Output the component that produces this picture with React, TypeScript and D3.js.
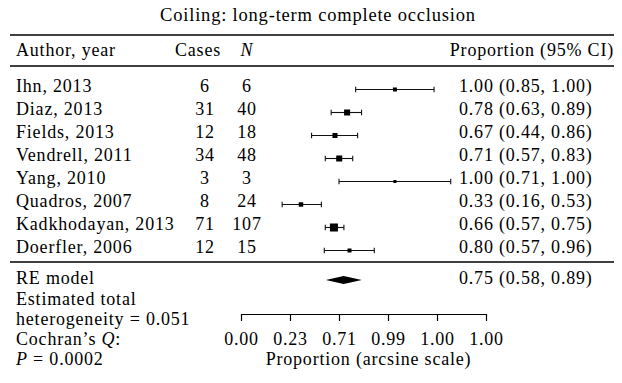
import { useEffect, useRef } from 'react';
import * as d3 from 'd3';

// study rows
const studies = [
  'Ihn, 2013',
  'Diaz, 2013',
  'Fields, 2013',
  'Vendrell, 2011',
  'Yang, 2010',
  'Quadros, 2007',
  'Kadkhodayan, 2013',
  'Doerfler, 2006',
];
const cases = [6, 31, 12, 34, 3, 8, 71, 12];
const totals = [6, 40, 18, 48, 3, 24, 107, 15];
const proportions = [1.0, 0.78, 0.67, 0.71, 1.0, 0.33, 0.66, 0.8];
const ciLow = [0.85, 0.63, 0.44, 0.57, 0.71, 0.16, 0.57, 0.57];
const ciHigh = [1.0, 0.89, 0.86, 0.83, 1.0, 0.53, 0.75, 0.96];
// whisker ends as drawn, on the arcsine scale
const whiskerLowAsin = [1.17, 0.92, 0.72, 0.86, 1.0, 0.42, 0.86, 0.85];
const whiskerHighAsin = [1.97, 1.23, 1.19, 1.14, 2.14, 0.82, 1.05, 1.36];
// relative weights (%) -> square size
const weights = [7.2, 16.2, 11.3, 16.2, 4.1, 9.0, 28.8, 7.2];

// pooled random-effects estimate
const pooled = { est: 0.75, low: 0.58, high: 0.89 };

// axis on arcsine scale
const tickValues = [0, 0.5, 1, 1.5, 2, 2.5];
const tickLabels = ['0.00', '0.23', '0.71', '0.99', '1.00', '1.00'];

const W = 622;
const H = 383;
const FONT = '"Liberation Serif", "Times New Roman", serif';

const asin = (p: number) => Math.asin(Math.sqrt(p));
const f2 = d3.format('.2f');

export default function App() {
  const svgRef = useRef<SVGSVGElement>(null);

  useEffect(() => {
    if (!svgRef.current) return;
    const svg = d3.select(svgRef.current);
    svg.selectAll('*').remove();

    const x = d3.scaleLinear().domain([0, 2.5]).range([241, 486]);
    const y = d3
      .scaleLinear()
      .domain([0, studies.length - 1])
      .range([89, 89 + 23 * (studies.length - 1)]);
    const size = d3.scaleSqrt().domain([0, d3.max(weights) as number]).range([0, 8]);

    const g = svg
      .append('g')
      .attr('font-family', FONT)
      .attr('font-size', 18)
      .attr('letter-spacing', 0.8)
      .attr('fill', '#000');

    const text = (
      tx: number,
      ty: number,
      s: string,
      anchor: 'start' | 'middle' | 'end' = 'start'
    ) => g.append('text').attr('x', tx).attr('y', ty).attr('text-anchor', anchor).text(s);

    // Title
    text(318, 21, 'Coiling: long-term complete occlusion', 'middle').attr('font-size', 18.5);

    // Rules
    const lineX0 = 10;
    const lineX1 = 614;
    [35, 66, 262].forEach((ly) => {
      g.append('line')
        .attr('x1', lineX0)
        .attr('x2', lineX1)
        .attr('y1', ly)
        .attr('y2', ly)
        .attr('stroke', '#000')
        .attr('stroke-width', 1.3);
    });

    // Header
    const casesX = 205;
    const nX = 247;
    const ciX = 459;
    text(16, 56, 'Author, year');
    text(198, 56, 'Cases', 'middle');
    text(nX, 56, 'N', 'middle').attr('font-style', 'italic');
    text(lineX1, 56, 'Proportion (95% CI)', 'end');

    // Study rows
    studies.forEach((name, i) => {
      const cy = y(i);
      text(16, cy + 3, name);
      text(casesX, cy + 3, String(cases[i]), 'middle');
      text(nX, cy + 3, String(totals[i]), 'middle');
      text(ciX, cy + 3, `${f2(proportions[i])} (${f2(ciLow[i])}, ${f2(ciHigh[i])})`);

      const xl = x(whiskerLowAsin[i]);
      const xh = x(whiskerHighAsin[i]);
      const ly = cy + 0.5;
      const row = g.append('g').attr('stroke', '#111').attr('stroke-width', 1.1);
      row.append('line').attr('x1', xl).attr('x2', xh).attr('y1', ly).attr('y2', ly);
      row.append('line').attr('x1', xl).attr('x2', xl).attr('y1', ly - 2.8).attr('y2', ly + 2.8);
      row.append('line').attr('x1', xh).attr('x2', xh).attr('y1', ly - 2.8).attr('y2', ly + 2.8);

      const s = size(weights[i]);
      g.append('rect')
        .attr('x', x(asin(proportions[i])) - s / 2)
        .attr('y', ly - s / 2)
        .attr('width', s)
        .attr('height', s)
        .attr('fill', '#000');
    });

    // RE model
    const reY = 280;
    text(16, reY + 4, 'RE model');
    text(ciX, reY + 4, `${f2(pooled.est)} (${f2(pooled.low)}, ${f2(pooled.high)})`);
    const dl = x(asin(pooled.low));
    const dh = x(asin(pooled.high));
    const dc = x(asin(pooled.est));
    g.append('path')
      .attr('d', `M${dl},${reY}L${dc},${reY - 4}L${dh},${reY}L${dc},${reY + 4}Z`)
      .attr('fill', '#000');

    // Footer notes
    text(16, 304.5, 'Estimated total');
    text(16, 324.5, 'heterogeneity = 0.051');
    const cq = text(16, 345, 'Cochran\u2019s ');
    cq.append('tspan').attr('font-style', 'italic').text('Q');
    cq.append('tspan').text(':');
    const pv = text(16, 365, '');
    pv.append('tspan').attr('font-style', 'italic').text('P');
    pv.append('tspan').text(' = 0.0002');

    // Axis
    const axisY = 314;
    const axis = g
      .append('g')
      .attr('transform', `translate(0, ${axisY})`)
      .call(
        d3
          .axisBottom(x)
          .tickValues(tickValues)
          .tickFormat((_, i) => tickLabels[i])
          .tickSize(7)
          .tickSizeOuter(0)
      );
    axis.select('.domain').attr('stroke', '#000').attr('stroke-width', 1.2);
    axis.selectAll('.tick line').attr('stroke', '#000').attr('stroke-width', 1.2);
    axis
      .selectAll('.tick text')
      .attr('font-family', FONT)
      .attr('font-size', 18)
      .attr('fill', '#000')
      .attr('dy', 0)
      .attr('y', 345 - axisY);
    axis.attr('font-family', FONT).attr('font-size', 18);

    const [r0, r1] = x.range();
    text((r0 + r1) / 2 + 5, 365, 'Proportion (arcsine scale)', 'middle');
  }, []);

  return (
    <svg
      ref={svgRef}
      width={W}
      height={H}
      style={{ position: 'absolute', left: 0, top: 0, background: '#fff' }}
    />
  );
}
